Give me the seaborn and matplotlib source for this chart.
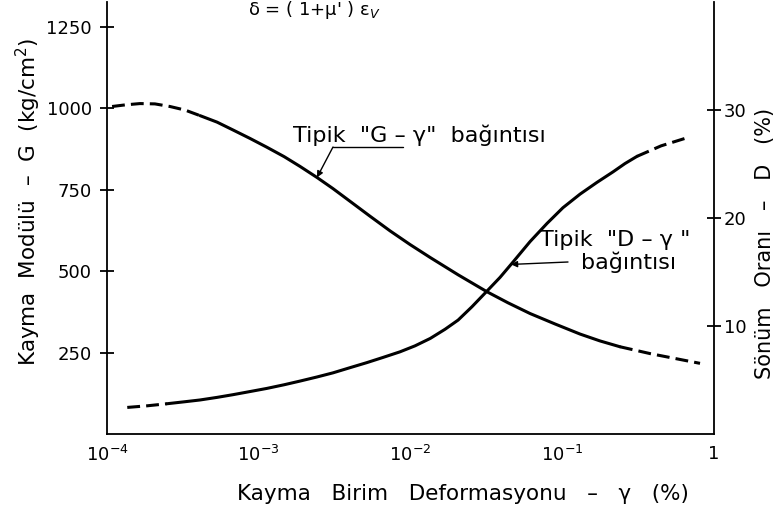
import numpy as np
import pandas as pd
import matplotlib
matplotlib.use("Agg")
import matplotlib.pyplot as plt
from matplotlib.lines import Line2D
import seaborn as sns

# Shear strain (%) and shear modulus G (kg/cm2)
g_strain = [1.08e-4, 1.32e-4, 1.65e-4, 2.07e-4, 2.60e-4, 3.27e-4, 4.10e-4,
            5.31e-4, 6.76e-4, 8.75e-4, 1.13e-3, 1.47e-3, 1.87e-3, 2.42e-3,
            3.08e-3, 3.99e-3, 5.41e-3, 7.33e-3, 9.93e-3, 1.35e-2, 2.06e-2,
            3.19e-2, 4.39e-2, 6.14e-2, 8.96e-2, 0.131, 0.177, 0.240, 0.379,
            0.597, 0.809]
g_modulus = [1006, 1011, 1015, 1014, 1006, 995, 978, 958, 934, 908, 881, 852,
             822, 788, 754, 715, 669, 624, 582, 542, 489, 437, 403, 370, 338,
             307, 286, 268, 247, 229, 217]

# Shear strain (%) and damping ratio D (%)
d_strain = [1.36e-4, 1.84e-4, 2.48e-4, 3.27e-4, 4.10e-4, 5.31e-4, 6.76e-4,
            8.75e-4, 1.13e-3, 1.47e-3, 1.87e-3, 2.42e-3, 3.08e-3, 3.99e-3,
            5.16e-3, 6.59e-3, 8.53e-3, 1.07e-2, 1.35e-2, 1.69e-2, 2.06e-2,
            2.54e-2, 3.19e-2, 3.89e-2, 4.73e-2, 6.14e-2, 7.94e-2, 0.101,
            0.131, 0.169, 0.216, 0.259, 0.311, 0.448, 0.644]
d_ratio = [2.46, 2.61, 2.80, 2.99, 3.15, 3.39, 3.64, 3.93, 4.22, 4.56, 4.90,
           5.28, 5.66, 6.14, 6.61, 7.09, 7.61, 8.16, 8.85, 9.70, 10.55, 11.78,
           13.23, 14.50, 15.91, 17.82, 19.50, 20.95, 22.21, 23.29, 24.27,
           25.04, 25.71, 26.68, 27.37]

# Extrapolated (dashed) ends of each curve, as index ranges
g_parts = [(0, 6, "--"), (6, 27, "-"), (27, 30, "--")]
d_parts = [(0, 2, "--"), (2, 32, "-"), (32, 34, "--")]

x_ticks = [1e-4, 1e-3, 1e-2, 1e-1, 1]
x_labels = [r"$10^{-4}$", r"$10^{-3}$", r"$10^{-2}$", r"$10^{-1}$", "1"]
g_ticks = [250, 500, 750, 1000, 1250]
d_ticks = [10, 20, 30]

sns.set_style("white")
plt.rcParams["font.family"] = ["DejaVu Sans"]
plt.rcParams["mathtext.fontset"] = "dejavusans"
for key in ("text.color", "axes.labelcolor", "xtick.color", "ytick.color"):
    plt.rcParams[key] = "black"

W, H = 778, 519
fig = plt.figure(figsize=(W / 100, H / 100), dpi=100)
x0, x1, ybase, ytop = 107, 714, 434, 2
ax = fig.add_axes([x0 / W, 1 - ybase / H, (x1 - x0) / W, (ybase - ytop) / H])
ax2 = ax.twinx()

g_df = pd.DataFrame({"strain": g_strain, "G": g_modulus})
d_df = pd.DataFrame({"strain": d_strain, "D": d_ratio})

lw = 2.2
for a, b, ls in g_parts:
    seg = g_df.iloc[a:b + 1]
    sns.lineplot(data=seg, x="strain", y="G", ax=ax, color="black", lw=lw,
                 sort=False, estimator=None)
    if ls == "--":
        ax.lines[-1].set_dashes((4.2, 2.0))
for a, b, ls in d_parts:
    seg = d_df.iloc[a:b + 1]
    sns.lineplot(data=seg, x="strain", y="D", ax=ax2, color="black", lw=lw,
                 sort=False, estimator=None)
    if ls == "--":
        ax2.lines[-1].set_dashes((4.2, 2.0))

ax.set_xscale("log")
ax.set_xlim(1e-4, 1)
ax.set_ylim(0, 1327)
ax2.set_ylim(0, 40)
ax.set_xticks(x_ticks)
ax.set_xticklabels(x_labels)
ax.xaxis.set_minor_locator(matplotlib.ticker.NullLocator())
ax.set_yticks(g_ticks)
ax2.set_yticks(d_ticks)
ax.set_xlabel("")
ax.set_ylabel("")
ax2.set_ylabel("")

for a in (ax, ax2):
    a.spines["top"].set_visible(False)
    for s in a.spines.values():
        s.set_linewidth(1.3)
        s.set_color("black")
ax.spines["right"].set_visible(False)
ax2.spines["left"].set_visible(False)
ax2.spines["bottom"].set_visible(False)

ax.tick_params(axis="x", direction="inout", length=10, width=1.3,
               labelsize=13, pad=3)
ax.tick_params(axis="y", direction="inout", length=10, width=1.3,
               labelsize=13, pad=6)
ax2.tick_params(axis="y", direction="inout", length=10, width=1.3,
                labelsize=13, pad=2)


def fpx(x, y):
    return x / W, 1 - y / H


# Axis titles
fig.text(*fpx(463, 494), "Kayma   Birim   Deformasyonu   –   γ   (%)",
         ha="center", va="center", fontsize=15.5)
fig.text(*fpx(28, 202), "Kayma  Modülü  –  G  (kg/cm$^2$)", rotation=90,
         ha="center", va="center", fontsize=15.5)
fig.text(*fpx(765, 243), "Sönüm   Oranı   –   D   (%)", rotation=90,
         ha="center", va="center", fontsize=15)

# Formula along the top edge
fig.text(*fpx(314, 15), r"δ = ( 1+μ' ) ε$_V$", ha="center", va="baseline",
         fontsize=13)

# Curve labels with leaders
fig.text(*fpx(293, 142), 'Tipik  "G – γ"  bağıntısı', ha="left",
         va="baseline", fontsize=16)
fig.add_artist(Line2D([333 / W, 403 / W], [1 - 147 / H, 1 - 147 / H],
                      color="black", lw=1.0))
g_tip_x = 10 ** ((317 - x0) / ((x1 - x0) / 4) - 4)
g_tip_y = np.interp(np.log10(g_tip_x), np.log10(g_strain), g_modulus)
ax.annotate("", xy=(g_tip_x, g_tip_y), xycoords="data",
            xytext=(333, H - 147), textcoords="figure pixels",
            arrowprops=dict(arrowstyle="-|>", color="black", lw=1.0,
                            mutation_scale=9, shrinkA=0, shrinkB=0))

fig.text(*fpx(540, 246), 'Tipik  "D – γ "', ha="left", va="baseline",
         fontsize=16)
fig.text(*fpx(581, 269), "bağıntısı", ha="left", va="baseline", fontsize=16)
d_tip_x = 10 ** ((511 - x0) / ((x1 - x0) / 4) - 4)
d_tip_y = np.interp(np.log10(d_tip_x), np.log10(d_strain), d_ratio)
ax2.annotate("", xy=(d_tip_x, d_tip_y), xycoords="data",
             xytext=(568, H - 262), textcoords="figure pixels",
             arrowprops=dict(arrowstyle="-|>", color="black", lw=1.0,
                             mutation_scale=9, shrinkA=0, shrinkB=0))

fig.savefig("out.png", dpi=100, facecolor="white")
